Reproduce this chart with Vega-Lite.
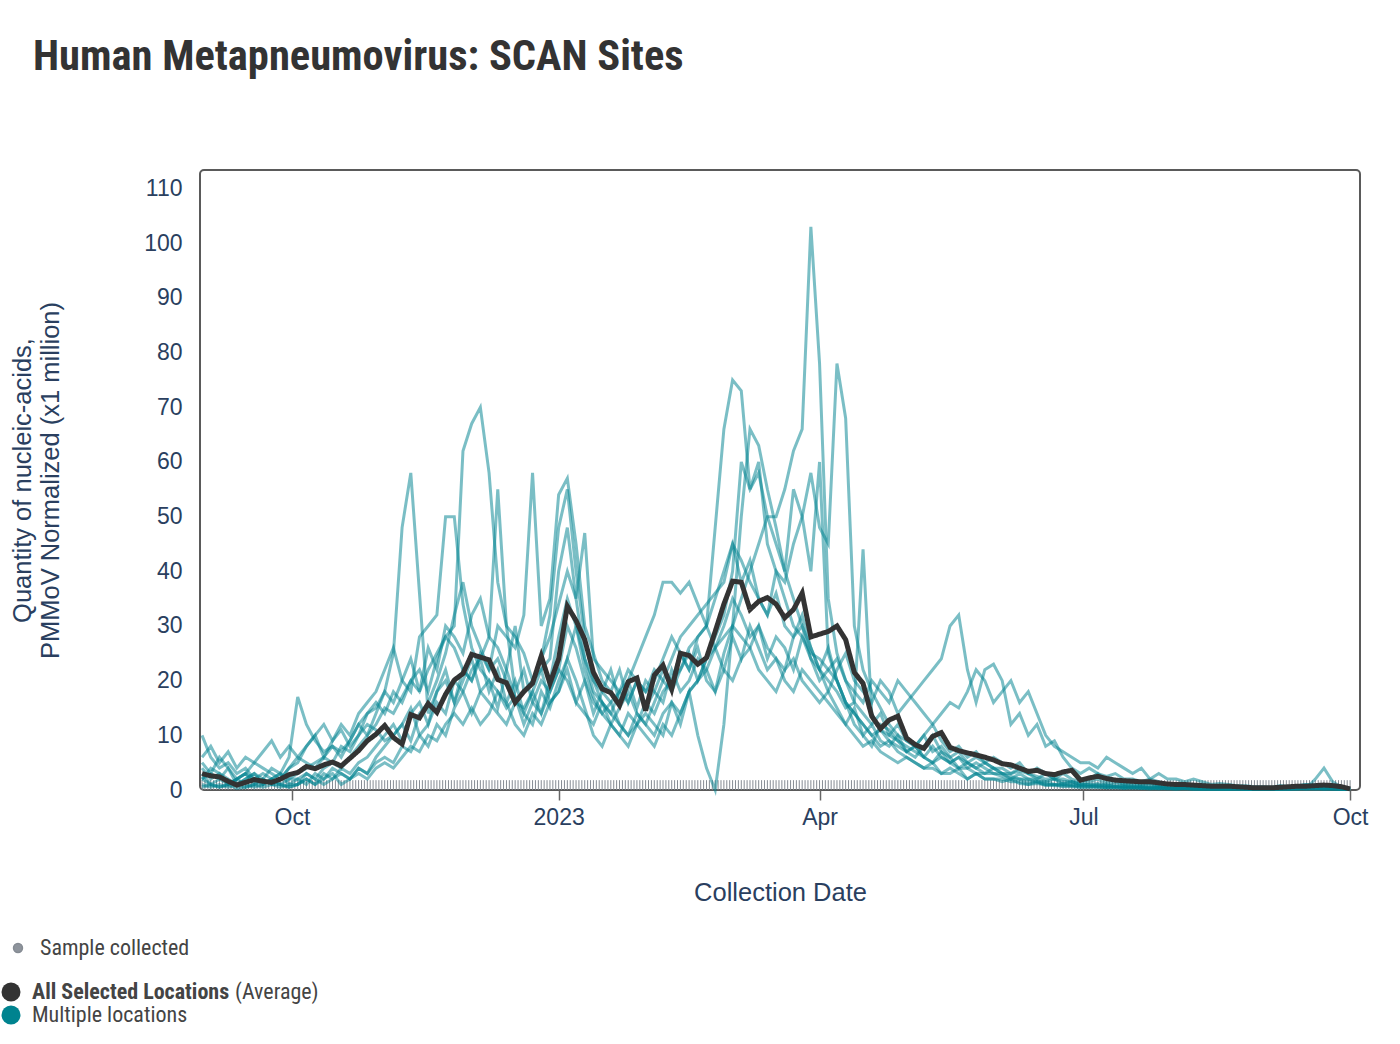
{
  "$schema": "https://vega.github.io/schema/vega-lite/v6.json",
  "width": 1160,
  "height": 620,
  "autosize": {"type": "none"},
  "padding": {"left": 200, "top": 170, "right": 40, "bottom": 254},
  "background": "white",
  "title": {
    "text": "Human Metapneumovirus: SCAN Sites",
    "anchor": "start",
    "frame": "group",
    "dx": -167,
    "offset": 92,
    "font": "Liberation Sans Narrow, Roboto Condensed, Roboto",
    "fontSize": 42.5,
    "fontWeight": "bold",
    "color": "#333333"
  },
  "config": {
    "view": {"stroke": "#5a5a5a", "strokeWidth": 2, "cornerRadius": 4},
    "axis": {
      "grid": false,
      "labelFont": "Liberation Sans",
      "titleFont": "Liberation Sans",
      "labelColor": "#2a3f5f",
      "titleColor": "#2a3f5f",
      "titleFontWeight": "normal"
    }
  },
  "datasets": {
    "samples": [
      {"t":"2022-08-31"},
      {"t":"2022-09-01"},{"t":"2022-09-02"},{"t":"2022-09-03"},{"t":"2022-09-04"},{"t":"2022-09-05"},{"t":"2022-09-06"},{"t":"2022-09-07"},{"t":"2022-09-08"},{"t":"2022-09-09"},{"t":"2022-09-10"},{"t":"2022-09-11"},{"t":"2022-09-12"},{"t":"2022-09-13"},{"t":"2022-09-14"},{"t":"2022-09-15"},{"t":"2022-09-16"},{"t":"2022-09-17"},{"t":"2022-09-18"},{"t":"2022-09-19"},{"t":"2022-09-20"},{"t":"2022-09-21"},{"t":"2022-09-22"},{"t":"2022-09-23"},{"t":"2022-09-24"},{"t":"2022-09-25"},{"t":"2022-09-26"},{"t":"2022-09-27"},{"t":"2022-09-28"},{"t":"2022-09-29"},{"t":"2022-09-30"},
      {"t":"2022-10-01"},{"t":"2022-10-02"},{"t":"2022-10-03"},{"t":"2022-10-04"},{"t":"2022-10-05"},{"t":"2022-10-06"},{"t":"2022-10-07"},{"t":"2022-10-08"},{"t":"2022-10-09"},{"t":"2022-10-10"},{"t":"2022-10-11"},{"t":"2022-10-12"},{"t":"2022-10-13"},{"t":"2022-10-14"},{"t":"2022-10-15"},{"t":"2022-10-16"},{"t":"2022-10-17"},{"t":"2022-10-18"},{"t":"2022-10-19"},{"t":"2022-10-20"},{"t":"2022-10-21"},{"t":"2022-10-22"},{"t":"2022-10-23"},{"t":"2022-10-24"},{"t":"2022-10-25"},{"t":"2022-10-26"},{"t":"2022-10-27"},{"t":"2022-10-28"},{"t":"2022-10-29"},{"t":"2022-10-30"},{"t":"2022-10-31"},
      {"t":"2022-11-01"},{"t":"2022-11-02"},{"t":"2022-11-03"},{"t":"2022-11-04"},{"t":"2022-11-05"},{"t":"2022-11-06"},{"t":"2022-11-07"},{"t":"2022-11-08"},{"t":"2022-11-09"},{"t":"2022-11-10"},{"t":"2022-11-11"},{"t":"2022-11-12"},{"t":"2022-11-13"},{"t":"2022-11-14"},{"t":"2022-11-15"},{"t":"2022-11-16"},{"t":"2022-11-17"},{"t":"2022-11-18"},{"t":"2022-11-19"},{"t":"2022-11-20"},{"t":"2022-11-21"},{"t":"2022-11-22"},{"t":"2022-11-23"},{"t":"2022-11-24"},{"t":"2022-11-25"},{"t":"2022-11-26"},{"t":"2022-11-27"},{"t":"2022-11-28"},{"t":"2022-11-29"},{"t":"2022-11-30"},
      {"t":"2022-12-01"},{"t":"2022-12-02"},{"t":"2022-12-03"},{"t":"2022-12-04"},{"t":"2022-12-05"},{"t":"2022-12-06"},{"t":"2022-12-07"},{"t":"2022-12-08"},{"t":"2022-12-09"},{"t":"2022-12-10"},{"t":"2022-12-11"},{"t":"2022-12-12"},{"t":"2022-12-13"},{"t":"2022-12-14"},{"t":"2022-12-15"},{"t":"2022-12-16"},{"t":"2022-12-17"},{"t":"2022-12-18"},{"t":"2022-12-19"},{"t":"2022-12-20"},{"t":"2022-12-21"},{"t":"2022-12-22"},{"t":"2022-12-23"},{"t":"2022-12-24"},{"t":"2022-12-25"},{"t":"2022-12-26"},{"t":"2022-12-27"},{"t":"2022-12-28"},{"t":"2022-12-29"},{"t":"2022-12-30"},{"t":"2022-12-31"},
      {"t":"2023-01-01"},{"t":"2023-01-02"},{"t":"2023-01-03"},{"t":"2023-01-04"},{"t":"2023-01-05"},{"t":"2023-01-06"},{"t":"2023-01-07"},{"t":"2023-01-08"},{"t":"2023-01-09"},{"t":"2023-01-10"},{"t":"2023-01-11"},{"t":"2023-01-12"},{"t":"2023-01-13"},{"t":"2023-01-14"},{"t":"2023-01-15"},{"t":"2023-01-16"},{"t":"2023-01-17"},{"t":"2023-01-18"},{"t":"2023-01-19"},{"t":"2023-01-20"},{"t":"2023-01-21"},{"t":"2023-01-22"},{"t":"2023-01-23"},{"t":"2023-01-24"},{"t":"2023-01-25"},{"t":"2023-01-26"},{"t":"2023-01-27"},{"t":"2023-01-28"},{"t":"2023-01-29"},{"t":"2023-01-30"},{"t":"2023-01-31"},
      {"t":"2023-02-01"},{"t":"2023-02-02"},{"t":"2023-02-03"},{"t":"2023-02-04"},{"t":"2023-02-05"},{"t":"2023-02-06"},{"t":"2023-02-07"},{"t":"2023-02-08"},{"t":"2023-02-09"},{"t":"2023-02-10"},{"t":"2023-02-11"},{"t":"2023-02-12"},{"t":"2023-02-13"},{"t":"2023-02-14"},{"t":"2023-02-15"},{"t":"2023-02-16"},{"t":"2023-02-17"},{"t":"2023-02-18"},{"t":"2023-02-19"},{"t":"2023-02-20"},{"t":"2023-02-21"},{"t":"2023-02-22"},{"t":"2023-02-23"},{"t":"2023-02-24"},{"t":"2023-02-25"},{"t":"2023-02-26"},{"t":"2023-02-27"},{"t":"2023-02-28"},
      {"t":"2023-03-01"},{"t":"2023-03-02"},{"t":"2023-03-03"},{"t":"2023-03-04"},{"t":"2023-03-05"},{"t":"2023-03-06"},{"t":"2023-03-07"},{"t":"2023-03-08"},{"t":"2023-03-09"},{"t":"2023-03-10"},{"t":"2023-03-11"},{"t":"2023-03-12"},{"t":"2023-03-13"},{"t":"2023-03-14"},{"t":"2023-03-15"},{"t":"2023-03-16"},{"t":"2023-03-17"},{"t":"2023-03-18"},{"t":"2023-03-19"},{"t":"2023-03-20"},{"t":"2023-03-21"},{"t":"2023-03-22"},{"t":"2023-03-23"},{"t":"2023-03-24"},{"t":"2023-03-25"},{"t":"2023-03-26"},{"t":"2023-03-27"},{"t":"2023-03-28"},{"t":"2023-03-29"},{"t":"2023-03-30"},{"t":"2023-03-31"},
      {"t":"2023-04-01"},{"t":"2023-04-02"},{"t":"2023-04-03"},{"t":"2023-04-04"},{"t":"2023-04-05"},{"t":"2023-04-06"},{"t":"2023-04-07"},{"t":"2023-04-08"},{"t":"2023-04-09"},{"t":"2023-04-10"},{"t":"2023-04-11"},{"t":"2023-04-12"},{"t":"2023-04-13"},{"t":"2023-04-14"},{"t":"2023-04-15"},{"t":"2023-04-16"},{"t":"2023-04-17"},{"t":"2023-04-18"},{"t":"2023-04-19"},{"t":"2023-04-20"},{"t":"2023-04-21"},{"t":"2023-04-22"},{"t":"2023-04-23"},{"t":"2023-04-24"},{"t":"2023-04-25"},{"t":"2023-04-26"},{"t":"2023-04-27"},{"t":"2023-04-28"},{"t":"2023-04-29"},{"t":"2023-04-30"},
      {"t":"2023-05-01"},{"t":"2023-05-02"},{"t":"2023-05-03"},{"t":"2023-05-04"},{"t":"2023-05-05"},{"t":"2023-05-06"},{"t":"2023-05-07"},{"t":"2023-05-08"},{"t":"2023-05-09"},{"t":"2023-05-10"},{"t":"2023-05-11"},{"t":"2023-05-12"},{"t":"2023-05-13"},{"t":"2023-05-14"},{"t":"2023-05-15"},{"t":"2023-05-16"},{"t":"2023-05-17"},{"t":"2023-05-18"},{"t":"2023-05-19"},{"t":"2023-05-20"},{"t":"2023-05-21"},{"t":"2023-05-22"},{"t":"2023-05-23"},{"t":"2023-05-24"},{"t":"2023-05-25"},{"t":"2023-05-26"},{"t":"2023-05-27"},{"t":"2023-05-28"},{"t":"2023-05-29"},{"t":"2023-05-30"},{"t":"2023-05-31"},
      {"t":"2023-06-01"},{"t":"2023-06-02"},{"t":"2023-06-03"},{"t":"2023-06-04"},{"t":"2023-06-05"},{"t":"2023-06-06"},{"t":"2023-06-07"},{"t":"2023-06-08"},{"t":"2023-06-09"},{"t":"2023-06-10"},{"t":"2023-06-11"},{"t":"2023-06-12"},{"t":"2023-06-13"},{"t":"2023-06-14"},{"t":"2023-06-15"},{"t":"2023-06-16"},{"t":"2023-06-17"},{"t":"2023-06-18"},{"t":"2023-06-19"},{"t":"2023-06-20"},{"t":"2023-06-21"},{"t":"2023-06-22"},{"t":"2023-06-23"},{"t":"2023-06-24"},{"t":"2023-06-25"},{"t":"2023-06-26"},{"t":"2023-06-27"},{"t":"2023-06-28"},{"t":"2023-06-29"},{"t":"2023-06-30"},
      {"t":"2023-07-01"},{"t":"2023-07-02"},{"t":"2023-07-03"},{"t":"2023-07-04"},{"t":"2023-07-05"},{"t":"2023-07-06"},{"t":"2023-07-07"},{"t":"2023-07-08"},{"t":"2023-07-09"},{"t":"2023-07-10"},{"t":"2023-07-11"},{"t":"2023-07-12"},{"t":"2023-07-13"},{"t":"2023-07-14"},{"t":"2023-07-15"},{"t":"2023-07-16"},{"t":"2023-07-17"},{"t":"2023-07-18"},{"t":"2023-07-19"},{"t":"2023-07-20"},{"t":"2023-07-21"},{"t":"2023-07-22"},{"t":"2023-07-23"},{"t":"2023-07-24"},{"t":"2023-07-25"},{"t":"2023-07-26"},{"t":"2023-07-27"},{"t":"2023-07-28"},{"t":"2023-07-29"},{"t":"2023-07-30"},{"t":"2023-07-31"},
      {"t":"2023-08-01"},{"t":"2023-08-02"},{"t":"2023-08-03"},{"t":"2023-08-04"},{"t":"2023-08-05"},{"t":"2023-08-06"},{"t":"2023-08-07"},{"t":"2023-08-08"},{"t":"2023-08-09"},{"t":"2023-08-10"},{"t":"2023-08-11"},{"t":"2023-08-12"},{"t":"2023-08-13"},{"t":"2023-08-14"},{"t":"2023-08-15"},{"t":"2023-08-16"},{"t":"2023-08-17"},{"t":"2023-08-18"},{"t":"2023-08-19"},{"t":"2023-08-20"},{"t":"2023-08-21"},{"t":"2023-08-22"},{"t":"2023-08-23"},{"t":"2023-08-24"},{"t":"2023-08-25"},{"t":"2023-08-26"},{"t":"2023-08-27"},{"t":"2023-08-28"},{"t":"2023-08-29"},{"t":"2023-08-30"},{"t":"2023-08-31"},
      {"t":"2023-09-01"},{"t":"2023-09-02"},{"t":"2023-09-03"},{"t":"2023-09-04"},{"t":"2023-09-05"},{"t":"2023-09-06"},{"t":"2023-09-07"},{"t":"2023-09-08"},{"t":"2023-09-09"},{"t":"2023-09-10"},{"t":"2023-09-11"},{"t":"2023-09-12"},{"t":"2023-09-13"},{"t":"2023-09-14"},{"t":"2023-09-15"},{"t":"2023-09-16"},{"t":"2023-09-17"},{"t":"2023-09-18"},{"t":"2023-09-19"},{"t":"2023-09-20"},{"t":"2023-09-21"},{"t":"2023-09-22"},{"t":"2023-09-23"},{"t":"2023-09-24"},{"t":"2023-09-25"},{"t":"2023-09-26"},{"t":"2023-09-27"},{"t":"2023-09-28"},{"t":"2023-09-29"},{"t":"2023-09-30"},
      {"t":"2023-10-01"}
    ],
    "series": [
      {"date":"2022-08-31","avg":3.0,"a":4,"b":1,"c":5,"d":0.5,"e":10,"f":2,"g":3,"h":2,"i":6,"j":2},
      {"date":"2022-09-03","avg":2.6,"a":2,"b":0.5,"c":3,"d":1,"e":6,"f":3,"g":1,"h":1,"i":8,"j":4},
      {"date":"2022-09-06","avg":2.4,"a":3,"b":1,"c":6,"d":0.5,"e":4,"f":2,"g":2,"h":0.5,"i":5,"j":3},
      {"date":"2022-09-09","avg":1.6,"a":1,"b":0.5,"c":4,"d":1,"e":5,"f":1,"g":4,"h":1,"i":7,"j":2},
      {"date":"2022-09-12","avg":0.9,"a":2,"b":1,"c":2,"d":0.3,"e":3,"f":2,"g":1,"h":2,"i":4,"j":1},
      {"date":"2022-09-15","avg":1.4,"a":3,"b":0.5,"c":3,"d":0.5,"e":4,"f":3,"g":2,"h":1,"i":6,"j":2},
      {"date":"2022-09-18","avg":1.9,"a":1,"b":1,"c":5,"d":1,"e":2,"f":2,"g":3,"h":0.5,"i":5,"j":3},
      {"date":"2022-09-21","avg":1.6,"a":2,"b":2,"c":4,"d":0.5,"e":3,"f":1,"g":1,"h":1,"i":7,"j":2},
      {"date":"2022-09-24","avg":1.4,"a":4,"b":1,"c":3,"d":1,"e":2,"f":2,"g":2,"h":2,"i":9,"j":1},
      {"date":"2022-09-27","avg":2.0,"a":3,"b":1,"c":2,"d":0.5,"e":3,"f":3,"g":1,"h":1,"i":6,"j":2},
      {"date":"2022-09-30","avg":2.8,"a":6,"b":2,"c":4,"d":1,"e":1,"f":2,"g":0.5,"h":0.5,"i":8,"j":4},
      {"date":"2022-10-03","avg":3.2,"a":17,"b":2,"c":5,"d":1,"e":2,"f":3,"g":1,"h":1,"i":6,"j":6},
      {"date":"2022-10-06","avg":4.3,"a":12,"b":3,"c":8,"d":2,"e":1,"f":4,"g":2,"h":3,"i":8,"j":5},
      {"date":"2022-10-09","avg":3.9,"a":9,"b":2,"c":10,"d":1,"e":3,"f":5,"g":1,"h":2,"i":10,"j":4},
      {"date":"2022-10-12","avg":4.6,"a":7,"b":4,"c":6,"d":3,"e":2,"f":6,"g":2,"h":1,"i":12,"j":6},
      {"date":"2022-10-15","avg":5.1,"a":8,"b":5,"c":9,"d":2,"e":4,"f":8,"g":3,"h":2,"i":9,"j":5},
      {"date":"2022-10-18","avg":4.4,"a":6,"b":4,"c":12,"d":4,"e":3,"f":7,"g":1,"h":3,"i":11,"j":8},
      {"date":"2022-10-21","avg":5.8,"a":9,"b":6,"c":10,"d":3,"e":2,"f":9,"g":2,"h":2,"i":8,"j":7},
      {"date":"2022-10-24","avg":7.2,"a":12,"b":8,"c":14,"d":5,"e":4,"f":12,"g":3,"h":4,"i":10,"j":10},
      {"date":"2022-10-27","avg":9.0,"a":10,"b":10,"c":16,"d":6,"e":3,"f":14,"g":2,"h":3,"i":12,"j":14},
      {"date":"2022-10-30","avg":10.2,"a":14,"b":12,"c":18,"d":8,"e":5,"f":16,"g":4,"h":6,"i":11,"j":15},
      {"date":"2022-11-02","avg":11.8,"a":18,"b":15,"c":22,"d":10,"e":6,"f":14,"g":5,"h":8,"i":9,"j":18},
      {"date":"2022-11-05","avg":9.6,"a":25,"b":14,"c":26,"d":12,"e":5,"f":18,"g":4,"h":10,"i":10,"j":16},
      {"date":"2022-11-08","avg":8.4,"a":48,"b":17,"c":20,"d":9,"e":8,"f":16,"g":6,"h":12,"i":12,"j":20},
      {"date":"2022-11-11","avg":13.8,"a":58,"b":20,"c":18,"d":14,"e":7,"f":20,"g":8,"h":9,"i":15,"j":24},
      {"date":"2022-11-14","avg":13.2,"a":36,"b":18,"c":28,"d":16,"e":10,"f":22,"g":7,"h":14,"i":10,"j":18},
      {"date":"2022-11-17","avg":15.8,"a":14,"b":22,"c":30,"d":12,"e":8,"f":18,"g":10,"h":16,"i":12,"j":26},
      {"date":"2022-11-20","avg":14.2,"a":18,"b":25,"c":32,"d":18,"e":12,"f":24,"g":9,"h":20,"i":16,"j":22},
      {"date":"2022-11-23","avg":17.5,"a":22,"b":28,"c":50,"d":20,"e":10,"f":28,"g":12,"h":25,"i":14,"j":30},
      {"date":"2022-11-26","avg":20.1,"a":16,"b":30,"c":50,"d":16,"e":15,"f":26,"g":14,"h":32,"i":20,"j":28},
      {"date":"2022-11-29","avg":21.3,"a":20,"b":62,"c":34,"d":22,"e":18,"f":22,"g":12,"h":38,"i":18,"j":25},
      {"date":"2022-12-02","avg":24.8,"a":24,"b":67,"c":26,"d":20,"e":22,"f":20,"g":15,"h":30,"i":14,"j":32},
      {"date":"2022-12-05","avg":24.3,"a":18,"b":70,"c":22,"d":25,"e":24,"f":24,"g":12,"h":26,"i":18,"j":35},
      {"date":"2022-12-08","avg":23.8,"a":20,"b":58,"c":20,"d":22,"e":28,"f":18,"g":14,"h":22,"i":16,"j":28},
      {"date":"2022-12-11","avg":20.2,"a":15,"b":38,"c":18,"d":30,"e":55,"f":22,"g":18,"h":24,"i":14,"j":26},
      {"date":"2022-12-14","avg":19.6,"a":22,"b":30,"c":15,"d":28,"e":30,"f":16,"g":16,"h":20,"i":12,"j":22},
      {"date":"2022-12-17","avg":16.0,"a":17,"b":28,"c":17,"d":26,"e":18,"f":20,"g":12,"h":16,"i":16,"j":30},
      {"date":"2022-12-20","avg":18.0,"a":12,"b":25,"c":14,"d":32,"e":22,"f":14,"g":10,"h":18,"i":15,"j":18},
      {"date":"2022-12-23","avg":19.5,"a":16,"b":20,"c":12,"d":58,"e":16,"f":18,"g":14,"h":20,"i":18,"j":20},
      {"date":"2022-12-26","avg":24.5,"a":20,"b":22,"c":18,"d":30,"e":14,"f":22,"g":12,"h":24,"i":14,"j":24},
      {"date":"2022-12-29","avg":19.5,"a":18,"b":24,"c":15,"d":35,"e":18,"f":16,"g":16,"h":32,"i":20,"j":28},
      {"date":"2023-01-01","avg":24.0,"a":22,"b":40,"c":20,"d":54,"e":22,"f":18,"g":18,"h":48,"i":28,"j":34},
      {"date":"2023-01-04","avg":33.6,"a":30,"b":48,"c":24,"d":57,"e":20,"f":22,"g":24,"h":55,"i":35,"j":40},
      {"date":"2023-01-07","avg":31.0,"a":26,"b":35,"c":30,"d":45,"e":16,"f":16,"g":20,"h":40,"i":30,"j":35},
      {"date":"2023-01-10","avg":27.5,"a":20,"b":24,"c":22,"d":30,"e":14,"f":20,"g":15,"h":28,"i":24,"j":47},
      {"date":"2023-01-13","avg":21.5,"a":16,"b":18,"c":17,"d":25,"e":12,"f":14,"g":10,"h":20,"i":20,"j":24},
      {"date":"2023-01-16","avg":18.5,"a":14,"b":16,"c":14,"d":20,"e":16,"f":18,"g":8,"h":16,"i":18,"j":22},
      {"date":"2023-01-19","avg":17.8,"a":12,"b":12,"c":16,"d":18,"e":14,"f":22,"g":12,"h":14,"i":16,"j":20},
      {"date":"2023-01-22","avg":15.5,"a":15,"b":10,"c":12,"d":22,"e":18,"f":16,"g":10,"h":12,"i":18,"j":18},
      {"date":"2023-01-25","avg":19.8,"a":18,"b":14,"c":10,"d":16,"e":16,"f":20,"g":8,"h":10,"i":20,"j":22},
      {"date":"2023-01-28","avg":20.5,"a":14,"b":12,"c":14,"d":20,"e":20,"f":24,"g":12,"h":12,"i":15,"j":20},
      {"date":"2023-01-31","avg":14.5,"a":12,"b":16,"c":12,"d":15,"e":18,"f":28,"g":10,"h":14,"i":20,"j":18},
      {"date":"2023-02-03","avg":21.0,"a":16,"b":14,"c":10,"d":18,"e":20,"f":32,"g":8,"h":12,"i":18,"j":22},
      {"date":"2023-02-06","avg":22.8,"a":20,"b":18,"c":14,"d":22,"e":24,"f":38,"g":12,"h":10,"i":16,"j":20},
      {"date":"2023-02-09","avg":18.5,"a":18,"b":20,"c":16,"d":20,"e":28,"f":38,"g":10,"h":16,"i":22,"j":24},
      {"date":"2023-02-12","avg":25.0,"a":22,"b":22,"c":12,"d":25,"e":25,"f":36,"g":14,"h":14,"i":18,"j":28},
      {"date":"2023-02-15","avg":24.6,"a":25,"b":26,"c":18,"d":22,"e":22,"f":38,"g":18,"h":18,"i":20,"j":30},
      {"date":"2023-02-18","avg":23.0,"a":20,"b":28,"c":20,"d":28,"e":26,"f":34,"g":10,"h":20,"i":24,"j":32},
      {"date":"2023-02-21","avg":24.2,"a":24,"b":30,"c":22,"d":30,"e":20,"f":30,"g":4,"h":24,"i":22,"j":34},
      {"date":"2023-02-24","avg":29.0,"a":26,"b":48,"c":18,"d":35,"e":18,"f":26,"g":0,"h":28,"i":26,"j":36},
      {"date":"2023-02-27","avg":34.0,"a":30,"b":66,"c":25,"d":40,"e":22,"f":22,"g":12,"h":32,"i":28,"j":38},
      {"date":"2023-03-02","avg":38.2,"a":35,"b":75,"c":30,"d":45,"e":20,"f":28,"g":30,"h":40,"i":30,"j":45},
      {"date":"2023-03-05","avg":38.0,"a":32,"b":73,"c":35,"d":38,"e":24,"f":24,"g":50,"h":60,"i":28,"j":42},
      {"date":"2023-03-08","avg":33.0,"a":28,"b":55,"c":40,"d":42,"e":26,"f":30,"g":66,"h":55,"i":26,"j":38},
      {"date":"2023-03-11","avg":34.5,"a":30,"b":60,"c":45,"d":35,"e":22,"f":26,"g":63,"h":58,"i":30,"j":35},
      {"date":"2023-03-14","avg":35.2,"a":26,"b":45,"c":50,"d":32,"e":20,"f":22,"g":55,"h":50,"i":24,"j":32},
      {"date":"2023-03-17","avg":34.0,"a":24,"b":40,"c":50,"d":40,"e":18,"f":24,"g":48,"h":45,"i":28,"j":36},
      {"date":"2023-03-20","avg":31.5,"a":22,"b":35,"c":55,"d":38,"e":22,"f":20,"g":40,"h":40,"i":26,"j":30},
      {"date":"2023-03-23","avg":33.0,"a":28,"b":30,"c":62,"d":45,"e":24,"f":18,"g":35,"h":55,"i":22,"j":28},
      {"date":"2023-03-26","avg":36.0,"a":30,"b":28,"c":66,"d":50,"e":20,"f":22,"g":30,"h":50,"i":28,"j":32},
      {"date":"2023-03-29","avg":28.0,"a":24,"b":25,"c":103,"d":58,"e":18,"f":20,"g":26,"h":40,"i":24,"j":26},
      {"date":"2023-04-01","avg":28.5,"a":22,"b":24,"c":78,"d":48,"e":16,"f":18,"g":22,"h":60,"i":20,"j":22},
      {"date":"2023-04-04","avg":29.0,"a":26,"b":22,"c":35,"d":45,"e":18,"f":16,"g":18,"h":25,"i":22,"j":20},
      {"date":"2023-04-07","avg":30.0,"a":20,"b":20,"c":25,"d":78,"e":22,"f":14,"g":15,"h":20,"i":24,"j":18},
      {"date":"2023-04-10","avg":27.5,"a":16,"b":16,"c":20,"d":68,"e":25,"f":12,"g":12,"h":16,"i":20,"j":15},
      {"date":"2023-04-13","avg":21.5,"a":12,"b":14,"c":16,"d":30,"e":20,"f":15,"g":10,"h":14,"i":18,"j":16},
      {"date":"2023-04-16","avg":19.5,"a":10,"b":12,"c":14,"d":22,"e":18,"f":10,"g":8,"h":12,"i":16,"j":44},
      {"date":"2023-04-19","avg":13.5,"a":8,"b":10,"c":12,"d":18,"e":16,"f":12,"g":9,"h":10,"i":20,"j":14},
      {"date":"2023-04-22","avg":11.2,"a":12,"b":11,"c":14,"d":15,"e":20,"f":9,"g":7,"h":8,"i":18,"j":11},
      {"date":"2023-04-25","avg":12.8,"a":11,"b":9,"c":10,"d":12,"e":18,"f":8,"g":6,"h":9,"i":16,"j":10},
      {"date":"2023-04-28","avg":13.5,"a":9,"b":8,"c":9,"d":10,"e":14,"f":10,"g":5,"h":7,"i":20,"j":12},
      {"date":"2023-05-01","avg":9.5,"a":7,"b":7,"c":8,"d":9,"e":16,"f":7,"g":6,"h":6,"i":18,"j":9},
      {"date":"2023-05-04","avg":8.3,"a":6,"b":8,"c":7,"d":8,"e":18,"f":8,"g":5,"h":5,"i":16,"j":8},
      {"date":"2023-05-07","avg":7.6,"a":8,"b":6,"c":6,"d":10,"e":20,"f":6,"g":4,"h":4,"i":14,"j":10},
      {"date":"2023-05-10","avg":9.8,"a":10,"b":5,"c":8,"d":7,"e":22,"f":5,"g":5,"h":4,"i":12,"j":12},
      {"date":"2023-05-13","avg":10.5,"a":7,"b":6,"c":6,"d":8,"e":24,"f":7,"g":3,"h":3,"i":14,"j":9},
      {"date":"2023-05-16","avg":7.8,"a":5,"b":5,"c":5,"d":6,"e":30,"f":6,"g":4,"h":3,"i":16,"j":7},
      {"date":"2023-05-19","avg":7.2,"a":6,"b":4,"c":6,"d":7,"e":32,"f":4,"g":3,"h":4,"i":15,"j":8},
      {"date":"2023-05-22","avg":6.8,"a":5,"b":4,"c":4,"d":5,"e":22,"f":5,"g":2,"h":2,"i":18,"j":6},
      {"date":"2023-05-25","avg":6.4,"a":4,"b":3,"c":5,"d":6,"e":16,"f":4,"g":3,"h":3,"i":22,"j":7},
      {"date":"2023-05-28","avg":6.0,"a":5,"b":3,"c":4,"d":5,"e":22,"f":3,"g":2,"h":2,"i":20,"j":5},
      {"date":"2023-05-31","avg":5.5,"a":4,"b":3,"c":3,"d":4,"e":23,"f":4,"g":2,"h":2,"i":16,"j":6},
      {"date":"2023-06-03","avg":4.8,"a":3,"b":2.5,"c":3,"d":4,"e":20,"f":3,"g":1.5,"h":2,"i":18,"j":5},
      {"date":"2023-06-06","avg":4.6,"a":3,"b":2,"c":2.5,"d":3,"e":12,"f":2,"g":2,"h":1.5,"i":20,"j":4},
      {"date":"2023-06-09","avg":4.0,"a":4,"b":2,"c":2,"d":3.5,"e":14,"f":3,"g":1.2,"h":1.5,"i":16,"j":5},
      {"date":"2023-06-12","avg":3.4,"a":3,"b":1.5,"c":2,"d":3,"e":10,"f":2,"g":1,"h":1,"i":18,"j":3},
      {"date":"2023-06-15","avg":3.6,"a":2,"b":1.5,"c":1.5,"d":2.5,"e":12,"f":2,"g":1.5,"h":1.2,"i":14,"j":4},
      {"date":"2023-06-18","avg":3.0,"a":3,"b":1,"c":1.5,"d":2,"e":8,"f":1.5,"g":0.8,"h":1,"i":10,"j":3},
      {"date":"2023-06-21","avg":2.8,"a":2,"b":1,"c":1,"d":2,"e":9,"f":2,"g":1,"h":0.8,"i":8,"j":2},
      {"date":"2023-06-24","avg":3.3,"a":2,"b":1,"c":1.2,"d":1.5,"e":6,"f":1,"g":0.6,"h":0.8,"i":7,"j":3},
      {"date":"2023-06-27","avg":3.6,"a":1.5,"b":0.8,"c":1,"d":1.5,"e":4,"f":1.5,"g":0.8,"h":0.6,"i":6,"j":2},
      {"date":"2023-06-30","avg":1.8,"a":1,"b":0.8,"c":0.8,"d":1,"e":3,"f":1,"g":0.5,"h":0.5,"i":5,"j":1.5},
      {"date":"2023-07-03","avg":2.2,"a":1.5,"b":0.7,"c":0.8,"d":1,"e":4,"f":1,"g":0.6,"h":0.5,"i":5,"j":2},
      {"date":"2023-07-06","avg":2.5,"a":2,"b":0.6,"c":1,"d":1.2,"e":3,"f":0.8,"g":0.5,"h":0.6,"i":4,"j":3},
      {"date":"2023-07-09","avg":2.1,"a":1,"b":0.5,"c":0.6,"d":0.8,"e":2.5,"f":1,"g":0.4,"h":0.4,"i":6,"j":1.5},
      {"date":"2023-07-12","avg":1.8,"a":1.5,"b":0.6,"c":0.7,"d":1,"e":3,"f":0.6,"g":0.5,"h":0.4,"i":5,"j":2},
      {"date":"2023-07-15","avg":1.7,"a":1,"b":0.4,"c":0.5,"d":0.7,"e":2,"f":0.7,"g":0.3,"h":0.3,"i":4,"j":1},
      {"date":"2023-07-18","avg":1.6,"a":1,"b":0.5,"c":0.6,"d":0.8,"e":2,"f":0.5,"g":0.4,"h":0.4,"i":3,"j":1.5},
      {"date":"2023-07-21","avg":1.5,"a":0.8,"b":0.3,"c":0.5,"d":0.6,"e":1.5,"f":0.6,"g":0.3,"h":0.3,"i":4,"j":1},
      {"date":"2023-07-24","avg":1.5,"a":1,"b":0.4,"c":0.4,"d":0.5,"e":2,"f":0.4,"g":0.3,"h":0.2,"i":2,"j":1.2},
      {"date":"2023-07-27","avg":1.3,"a":0.7,"b":0.3,"c":0.5,"d":0.6,"e":1.5,"f":0.5,"g":0.2,"h":0.3,"i":3,"j":0.8},
      {"date":"2023-07-30","avg":1.1,"a":0.6,"b":0.3,"c":0.4,"d":0.4,"e":1,"f":0.3,"g":0.3,"h":0.2,"i":2,"j":1},
      {"date":"2023-08-02","avg":1.0,"a":0.5,"b":0.2,"c":0.3,"d":0.4,"e":1,"f":0.3,"g":0.2,"h":0.2,"i":2,"j":0.8},
      {"date":"2023-08-05","avg":1.0,"a":0.6,"b":0.3,"c":0.4,"d":0.3,"e":1.2,"f":0.4,"g":0.2,"h":0.3,"i":1.5,"j":0.6},
      {"date":"2023-08-08","avg":0.9,"a":0.4,"b":0.2,"c":0.3,"d":0.4,"e":0.8,"f":0.3,"g":0.1,"h":0.2,"i":2,"j":0.8},
      {"date":"2023-08-11","avg":0.8,"a":0.5,"b":0.2,"c":0.2,"d":0.3,"e":1,"f":0.2,"g":0.2,"h":0.1,"i":1.5,"j":0.5},
      {"date":"2023-08-14","avg":0.7,"a":0.3,"b":0.1,"c":0.3,"d":0.2,"e":0.6,"f":0.3,"g":0.1,"h":0.2,"i":1,"j":0.6},
      {"date":"2023-08-17","avg":0.7,"a":0.4,"b":0.2,"c":0.2,"d":0.3,"e":0.8,"f":0.2,"g":0.1,"h":0.1,"i":1.2,"j":0.4},
      {"date":"2023-08-20","avg":0.7,"a":0.3,"b":0.1,"c":0.3,"d":0.2,"e":0.5,"f":0.2,"g":0.2,"h":0.1,"i":1,"j":0.5},
      {"date":"2023-08-23","avg":0.6,"a":0.4,"b":0.2,"c":0.2,"d":0.3,"e":0.6,"f":0.3,"g":0.1,"h":0.2,"i":0.8,"j":0.3},
      {"date":"2023-08-26","avg":0.5,"a":0.2,"b":0.1,"c":0.2,"d":0.2,"e":0.5,"f":0.2,"g":0.1,"h":0.1,"i":0.8,"j":0.4},
      {"date":"2023-08-29","avg":0.4,"a":0.3,"b":0.1,"c":0.1,"d":0.2,"e":0.4,"f":0.1,"g":0.1,"h":0.1,"i":0.6,"j":0.3},
      {"date":"2023-09-01","avg":0.4,"a":0.2,"b":0.1,"c":0.2,"d":0.3,"e":0.5,"f":0.2,"g":0.1,"h":0.1,"i":0.6,"j":0.4},
      {"date":"2023-09-04","avg":0.4,"a":0.3,"b":0.2,"c":0.1,"d":0.2,"e":0.4,"f":0.2,"g":0.2,"h":0.1,"i":0.5,"j":0.3},
      {"date":"2023-09-07","avg":0.5,"a":0.4,"b":0.1,"c":0.2,"d":0.3,"e":0.6,"f":0.3,"g":0.1,"h":0.2,"i":0.8,"j":0.5},
      {"date":"2023-09-10","avg":0.6,"a":0.3,"b":0.2,"c":0.3,"d":0.4,"e":0.5,"f":0.2,"g":0.1,"h":0.1,"i":0.6,"j":0.4},
      {"date":"2023-09-13","avg":0.7,"a":0.5,"b":0.3,"c":0.2,"d":0.3,"e":0.8,"f":0.4,"g":0.2,"h":0.2,"i":0.8,"j":0.6},
      {"date":"2023-09-16","avg":0.7,"a":0.6,"b":0.2,"c":0.4,"d":0.5,"e":1,"f":0.3,"g":0.1,"h":0.3,"i":1,"j":0.8},
      {"date":"2023-09-19","avg":0.8,"a":0.4,"b":0.3,"c":0.3,"d":0.4,"e":0.8,"f":0.2,"g":0.2,"h":2,"i":0.8,"j":1},
      {"date":"2023-09-22","avg":0.9,"a":0.5,"b":0.2,"c":0.2,"d":0.3,"e":0.6,"f":0.3,"g":0.1,"h":4,"i":1,"j":0.8},
      {"date":"2023-09-25","avg":0.8,"a":0.4,"b":0.2,"c":0.3,"d":0.2,"e":0.5,"f":0.2,"g":0.2,"h":1.5,"i":0.6,"j":0.6},
      {"date":"2023-09-28","avg":0.6,"a":0.3,"b":0.1,"c":0.2,"d":0.2,"e":0.4,"f":0.1,"g":0.1,"h":0.5,"i":0.5,"j":0.4},
      {"date":"2023-10-01","avg":0.2,"a":0.1,"b":0.1,"c":0.1,"d":0.1,"e":0.2,"f":0.1,"g":0.1,"h":0.2,"i":0.3,"j":0.2}
    ]
  },
  "resolve": {"scale": {"color": "independent"}},
  "layer": [
    {
      "data": {"name": "samples"},
      "mark": {"type": "rule", "strokeWidth": 1},
      "encoding": {
        "x": {
          "field": "t",
          "type": "temporal",
          "title": "Collection Date",
          "scale": {"domain": [{"year": 2022, "month": 8, "date": 30, "hours": 7}, {"year": 2023, "month": 10, "date": 4, "hours": 10}]},
          "axis": {
            "values": [{"year": 2022, "month": 10, "date": 1}, {"year": 2023, "month": 1, "date": 1}, {"year": 2023, "month": 4, "date": 1}, {"year": 2023, "month": 7, "date": 1}, {"year": 2023, "month": 10, "date": 1}],
            "labelExpr": "month(datum.value) == 0 ? timeFormat(datum.value, '%Y') : timeFormat(datum.value, '%b')",
            "domain": false,
            "tickSize": 10,
            "tickColor": "#666666",
            "tickWidth": 1.5,
            "labelFontSize": 23,
            "labelPadding": 6,
            "titleFontSize": 25.5,
            "titlePadding": 51
          }
        },
        "y": {
          "datum": 0,
          "type": "quantitative",
          "scale": {"domain": [0, 113.4], "nice": false},
          "axis": {
            "title": ["Quantity of nucleic-acids,", "PMMoV Normalized (x1 million)"],
            "values": [0, 10, 20, 30, 40, 50, 60, 70, 80, 90, 100, 110],
            "ticks": false,
            "domain": false,
            "labelFontSize": 23,
            "labelPadding": 18,
            "titleFontSize": 25.5,
            "titleLineHeight": 28,
            "titlePadding": 80
          }
        },
        "y2": {"datum": 1.8},
        "color": {
          "datum": "Sample collected",
          "scale": {"range": ["#858b93"]},
          "legend": {
            "title": null,
            "orient": "none",
            "legendX": -193,
            "legendY": 767,
            "padding": 0,
            "symbolType": "circle",
            "symbolSize": 80,
            "labelFont": "Liberation Sans Narrow, Roboto Condensed, Roboto",
            "labelFontSize": 22,
            "labelColor": "#444444",
            "labelOffset": 11,
            "encode": {"symbols": {"update": {"fill": {"value": "#8e949c"}, "stroke": {"value": "transparent"}, "opacity": {"value": 1}}}}
          }
        }
      }
    },
    {
      "data": {"name": "series"},
      "layer": [
        {
          "transform": [{"fold": ["a", "b", "c", "d", "e", "f", "g", "h", "i", "j"], "as": ["site", "value"]}],
          "mark": {"type": "line", "strokeWidth": 3, "opacity": 0.52},
          "encoding": {
            "x": {"field": "date", "type": "temporal", "title": "Collection Date"},
            "y": {"field": "value", "type": "quantitative", "title": ["Quantity of nucleic-acids,", "PMMoV Normalized (x1 million)"]},
            "detail": {"field": "site", "type": "nominal"},
            "color": {
              "datum": "Multiple locations",
              "scale": {"domain": ["All Selected Locations", "Multiple locations"], "range": ["#333333", "#00838f"]},
              "legend": {
                "title": null,
                "orient": "none",
                "legendX": -200,
                "legendY": 811,
                "padding": 0,
                "rowPadding": 1,
                "symbolType": "circle",
                "symbolSize": 361,
                "symbolStrokeWidth": 0,
                "symbolOpacity": 1,
                "labelLimit": 400,
                "labelFont": "Liberation Sans Narrow, Roboto Condensed, Roboto",
                "labelFontSize": 22,
                "labelColor": "#444444",
                "labelOffset": 10,
                "encode": {
                  "symbols": {"update": {"fill": {"signal": "datum.value === 'Multiple locations' ? '#00838f' : '#333333'"}, "stroke": {"value": "transparent"}, "opacity": {"value": 1}}},
                  "labels": {"update": {"fontWeight": {"signal": "datum.value === 'All Selected Locations' ? 'bold' : 'normal'"}}}
                }
              }
            }
          }
        },
        {
          "mark": {"type": "line", "strokeWidth": 5},
          "encoding": {
            "x": {"field": "date", "type": "temporal", "title": "Collection Date"},
            "y": {"field": "avg", "type": "quantitative", "title": ["Quantity of nucleic-acids,", "PMMoV Normalized (x1 million)"]},
            "color": {
              "datum": "All Selected Locations",
              "legend": {
                "title": null,
                "orient": "none",
                "legendX": -200,
                "legendY": 811,
                "padding": 0,
                "rowPadding": 1,
                "symbolType": "circle",
                "symbolSize": 361,
                "symbolStrokeWidth": 0,
                "symbolOpacity": 1,
                "labelLimit": 400,
                "labelFont": "Liberation Sans Narrow, Roboto Condensed, Roboto",
                "labelFontSize": 22,
                "labelColor": "#444444",
                "labelOffset": 10,
                "encode": {
                  "symbols": {"update": {"fill": {"signal": "datum.value === 'Multiple locations' ? '#00838f' : '#333333'"}, "stroke": {"value": "transparent"}, "opacity": {"value": 1}}},
                  "labels": {"update": {"fontWeight": {"signal": "datum.value === 'All Selected Locations' ? 'bold' : 'normal'"}}}
                }
              }
            },
            "strokeDash": {
              "datum": "(Average)",
              "type": "nominal",
              "scale": {"range": [[1, 0]]},
              "legend": {
                "title": null,
                "orient": "none",
                "legendX": 13,
                "legendY": 811,
                "padding": 0,
                "symbolSize": 361,
                "symbolOpacity": 0,
                "labelFont": "Liberation Sans Narrow, Roboto Condensed, Roboto",
                "labelFontSize": 22,
                "labelColor": "#444444",
                "labelOffset": 0
              }
            }
          }
        }
      ]
    }
  ]
}
